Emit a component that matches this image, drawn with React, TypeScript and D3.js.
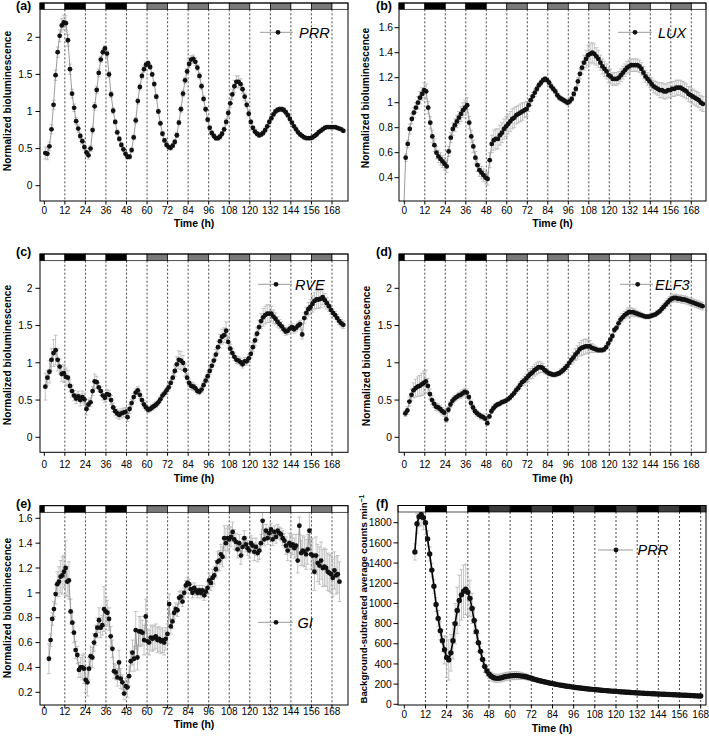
import React from "react";
import * as d3 from "d3";

// ---------------- data ----------------
const timeTicks = [0, 12, 24, 36, 48, 60, 72, 84, 96, 108, 120, 132, 144, 156, 168];
const dashTimes = [12, 24, 36, 48, 60, 72, 84, 96, 108, 120, 132, 144, 156, 168];
const yTicksNorm = [0, 0.5, 1, 1.5, 2];
const yTicksLux = [0.4, 0.6, 0.8, 1, 1.2, 1.4, 1.6];
const yTicksGi = [0.2, 0.4, 0.6, 0.8, 1, 1.2, 1.4, 1.6];
const yTicksCounts = [0, 200, 400, 600, 800, 1000, 1200, 1400, 1600, 1800];

// light regime bars: D = dark, L = light, G = grey (subjective night)
const lightEdgesMain = [0, 12, 24, 36, 48, 60, 72, 84, 96, 108, 120, 132, 144, 156, 168];
const lightMain = ["D", "L", "D", "L", "D", "L", "G", "L", "G", "L", "G", "L", "G", "L", "G", "L"];
const lightEdgesF = [12, 24, 36, 48, 60, 72, 84, 96, 108, 120, 132, 144, 156, 168];
const lightF = ["L", "D", "L", "D", "G", "D", "G", "D", "G", "D", "G", "D", "G", "D", "G"];

// (a) PRR, sampled every 1.2 h from 0.6 h
const prrA = [0.44,0.43,0.53,0.76,1.09,1.49,1.80,2.02,2.16,2.20,
 2.19,1.96,1.57,1.24,1.05,0.87,0.77,0.67,0.60,0.52,
 0.45,0.41,0.50,0.75,1.07,1.29,1.52,1.70,1.80,1.85,
 1.78,1.50,1.23,1.01,0.86,0.72,0.63,0.55,0.49,0.43,
 0.39,0.39,0.48,0.65,0.88,1.14,1.33,1.48,1.57,1.63,
 1.65,1.60,1.50,1.37,1.20,1.00,0.84,0.70,0.61,0.55,
 0.52,0.51,0.54,0.59,0.68,0.85,1.03,1.24,1.42,1.54,
 1.64,1.70,1.71,1.67,1.59,1.48,1.34,1.17,1.03,0.89,
 0.78,0.71,0.67,0.64,0.64,0.66,0.70,0.76,0.86,0.98,
 1.11,1.23,1.34,1.40,1.40,1.37,1.30,1.20,1.09,0.97,
 0.86,0.78,0.73,0.70,0.68,0.69,0.71,0.75,0.80,0.86,
 0.91,0.96,1.00,1.02,1.03,1.03,1.02,0.99,0.95,0.90,
 0.85,0.80,0.76,0.72,0.69,0.67,0.65,0.64,0.64,0.64,
 0.65,0.67,0.69,0.72,0.74,0.76,0.78,0.79,0.79,0.79,
 0.79,0.79,0.78,0.77,0.76,0.74];
const prrAErr = [0.08,0.08,0.06,0.06,0.06,0.07,0.07,0.08,0.09,0.10,
 0.10,0.08,0.07,0.06,0.05,0.05,0.05,0.04,0.04,0.04,
 0.05,0.05,0.04,0.04,0.05,0.05,0.05,0.04,0.04,0.04,
 0.04,0.04,0.04,0.04,0.03,0.03,0.03,0.03,0.03,0.03,
 0.03,0.03,0.03,0.03,0.04,0.04,0.04,0.04,0.04,0.04,
 0.03,0.03,0.03,0.03,0.03,0.03,0.03,0.03,0.03,0.03,
 0.03,0.03,0.03,0.03,0.03,0.03,0.04,0.04,0.04,0.04,
 0.05,0.05,0.05,0.05,0.04,0.04,0.04,0.04,0.03,0.03,
 0.03,0.03,0.03,0.03,0.03,0.03,0.03,0.03,0.04,0.05,
 0.06,0.07,0.08,0.08,0.08,0.07,0.06,0.05,0.04,0.04,
 0.03,0.03,0.03,0.03,0.03,0.03,0.03,0.03,0.03,0.03,
 0.03,0.03,0.03,0.03,0.03,0.03,0.03,0.03,0.03,0.03,
 0.02,0.02,0.02,0.02,0.02,0.02,0.02,0.02,0.02,0.02,
 0.02,0.02,0.02,0.02,0.02,0.02,0.02,0.02,0.02,0.02,
 0.02,0.02,0.02,0.02,0.02,0.02];

// (b) LUX, every 1.2 h from -0.4 h
const luxB = [0.12,0.56,0.67,0.79,0.87,0.92,0.96,1.00,1.04,1.07,
 1.10,1.09,0.96,0.84,0.73,0.66,0.60,0.57,0.55,0.53,
 0.51,0.49,0.61,0.72,0.79,0.82,0.85,0.88,0.91,0.94,
 0.96,0.98,0.84,0.73,0.65,0.56,0.50,0.46,0.44,0.42,
 0.40,0.39,0.54,0.67,0.70,0.71,0.71,0.74,0.76,0.79,
 0.81,0.83,0.85,0.87,0.88,0.90,0.91,0.92,0.93,0.94,
 0.95,0.98,1.02,1.05,1.08,1.11,1.14,1.16,1.18,1.19,
 1.18,1.16,1.13,1.11,1.09,1.06,1.04,1.03,1.02,1.01,
 1.00,1.01,1.03,1.07,1.11,1.17,1.23,1.28,1.32,1.35,
 1.38,1.39,1.40,1.39,1.37,1.35,1.32,1.29,1.27,1.25,
 1.22,1.21,1.19,1.19,1.19,1.20,1.22,1.24,1.26,1.28,
 1.29,1.30,1.30,1.30,1.30,1.29,1.27,1.24,1.21,1.19,
 1.17,1.15,1.13,1.12,1.11,1.10,1.10,1.09,1.09,1.10,
 1.10,1.11,1.11,1.12,1.12,1.12,1.11,1.10,1.09,1.07,
 1.06,1.05,1.04,1.03,1.02,1.00,0.99];
const luxBErr = [0.00,0.03,0.03,0.04,0.04,0.04,0.04,0.05,0.05,0.05,
 0.06,0.06,0.05,0.05,0.05,0.05,0.05,0.05,0.05,0.05,
 0.05,0.05,0.04,0.04,0.05,0.05,0.05,0.05,0.06,0.06,
 0.06,0.06,0.05,0.05,0.05,0.05,0.05,0.05,0.05,0.05,
 0.05,0.05,0.06,0.07,0.08,0.08,0.08,0.08,0.08,0.08,
 0.08,0.08,0.08,0.08,0.08,0.07,0.07,0.07,0.07,0.06,
 0.06,0.05,0.04,0.03,0.03,0.02,0.02,0.02,0.02,0.02,
 0.02,0.02,0.02,0.02,0.02,0.02,0.02,0.02,0.02,0.02,
 0.02,0.02,0.02,0.02,0.02,0.03,0.04,0.05,0.06,0.07,
 0.08,0.08,0.08,0.08,0.07,0.07,0.06,0.06,0.06,0.06,
 0.06,0.06,0.05,0.05,0.05,0.05,0.05,0.05,0.05,0.05,
 0.05,0.05,0.05,0.05,0.05,0.05,0.05,0.05,0.05,0.05,
 0.05,0.05,0.05,0.05,0.05,0.06,0.06,0.06,0.06,0.06,
 0.06,0.06,0.06,0.06,0.06,0.06,0.06,0.06,0.06,0.06,
 0.06,0.06,0.06,0.06,0.06,0.06,0.06];

// (c) RVE, every 1.2 h from 0.6 h
const rveC = [0.68,0.80,0.88,1.04,1.13,1.17,1.04,0.95,0.85,0.86,
 0.81,0.80,0.69,0.62,0.56,0.52,0.55,0.50,0.54,0.51,
 0.38,0.44,0.47,0.62,0.75,0.74,0.67,0.62,0.56,0.53,
 0.58,0.57,0.50,0.40,0.35,0.32,0.30,0.32,0.33,0.34,
 0.27,0.38,0.46,0.54,0.60,0.63,0.57,0.50,0.44,0.40,
 0.37,0.38,0.40,0.42,0.44,0.47,0.51,0.56,0.59,0.63,
 0.67,0.73,0.80,0.89,0.98,1.04,1.03,1.00,0.90,0.80,
 0.73,0.69,0.68,0.66,0.62,0.61,0.64,0.70,0.76,0.82,
 0.89,0.96,1.03,1.11,1.21,1.29,1.35,1.37,1.43,1.28,
 1.19,1.13,1.08,1.04,1.03,1.01,0.98,1.02,1.02,1.06,
 1.12,1.21,1.30,1.39,1.48,1.56,1.61,1.64,1.66,1.66,
 1.66,1.62,1.59,1.55,1.52,1.49,1.45,1.42,1.43,1.46,
 1.48,1.45,1.47,1.50,1.52,1.38,1.60,1.67,1.72,1.75,
 1.79,1.83,1.85,1.85,1.86,1.88,1.84,1.80,1.76,1.71,
 1.67,1.64,1.60,1.56,1.53,1.51];
const rveCErr = [0.18,0.10,0.15,0.15,0.18,0.20,0.15,0.10,0.10,0.12,
 0.12,0.10,0.08,0.08,0.07,0.07,0.07,0.08,0.08,0.08,
 0.08,0.07,0.06,0.06,0.10,0.08,0.06,0.06,0.06,0.06,
 0.06,0.06,0.06,0.06,0.06,0.06,0.06,0.06,0.06,0.06,
 0.06,0.06,0.05,0.05,0.05,0.05,0.05,0.05,0.05,0.04,
 0.04,0.04,0.04,0.04,0.04,0.04,0.04,0.04,0.04,0.04,
 0.05,0.05,0.06,0.07,0.10,0.12,0.12,0.10,0.08,0.06,
 0.05,0.05,0.05,0.05,0.04,0.04,0.04,0.04,0.04,0.05,
 0.05,0.05,0.06,0.07,0.08,0.09,0.10,0.10,0.12,0.08,
 0.06,0.06,0.05,0.05,0.05,0.05,0.05,0.05,0.05,0.05,
 0.05,0.06,0.07,0.08,0.09,0.10,0.12,0.12,0.12,0.12,
 0.10,0.09,0.08,0.07,0.06,0.06,0.05,0.05,0.05,0.05,
 0.05,0.05,0.05,0.05,0.05,0.06,0.07,0.08,0.09,0.10,
 0.11,0.11,0.12,0.12,0.12,0.10,0.09,0.08,0.07,0.06,
 0.05,0.05,0.05,0.05,0.05,0.05];

// (d) ELF3, every 1.2 h from 0.6 h
const elfD = [0.32,0.36,0.48,0.57,0.63,0.66,0.68,0.69,0.71,0.73,
 0.75,0.69,0.58,0.50,0.45,0.41,0.40,0.38,0.35,0.33,
 0.24,0.37,0.44,0.49,0.52,0.54,0.56,0.57,0.59,0.61,
 0.60,0.54,0.46,0.40,0.35,0.32,0.30,0.28,0.27,0.25,
 0.19,0.28,0.35,0.39,0.42,0.44,0.45,0.47,0.48,0.49,
 0.51,0.53,0.56,0.59,0.63,0.66,0.70,0.74,0.76,0.79,
 0.82,0.85,0.87,0.90,0.92,0.94,0.94,0.93,0.90,0.88,
 0.86,0.85,0.84,0.84,0.85,0.86,0.88,0.90,0.93,0.96,
 1.00,1.04,1.07,1.11,1.14,1.18,1.20,1.21,1.22,1.22,
 1.22,1.20,1.19,1.18,1.17,1.17,1.17,1.18,1.21,1.26,
 1.31,1.36,1.44,1.47,1.53,1.58,1.61,1.64,1.66,1.68,
 1.68,1.68,1.67,1.66,1.65,1.64,1.63,1.62,1.62,1.62,
 1.63,1.64,1.65,1.67,1.69,1.72,1.75,1.78,1.81,1.84,
 1.86,1.87,1.87,1.86,1.86,1.85,1.85,1.84,1.83,1.82,
 1.81,1.80,1.79,1.78,1.77,1.76];
const elfDErr = [0.04,0.05,0.06,0.08,0.10,0.12,0.13,0.14,0.15,0.16,
 0.15,0.10,0.07,0.06,0.05,0.05,0.05,0.05,0.05,0.05,
 0.04,0.04,0.04,0.04,0.04,0.04,0.04,0.05,0.05,0.05,
 0.05,0.04,0.04,0.04,0.04,0.04,0.04,0.04,0.04,0.03,
 0.03,0.03,0.03,0.03,0.03,0.03,0.03,0.03,0.03,0.03,
 0.03,0.03,0.03,0.03,0.04,0.04,0.05,0.05,0.06,0.06,
 0.07,0.07,0.08,0.08,0.08,0.08,0.07,0.06,0.05,0.04,
 0.03,0.03,0.03,0.03,0.03,0.03,0.04,0.04,0.05,0.05,
 0.06,0.06,0.07,0.08,0.09,0.09,0.10,0.10,0.10,0.09,
 0.08,0.06,0.05,0.04,0.03,0.03,0.03,0.03,0.03,0.03,
 0.03,0.03,0.03,0.03,0.04,0.04,0.05,0.05,0.06,0.06,
 0.06,0.05,0.05,0.04,0.04,0.03,0.03,0.03,0.03,0.03,
 0.03,0.03,0.03,0.03,0.03,0.04,0.04,0.05,0.05,0.05,
 0.05,0.05,0.05,0.05,0.05,0.05,0.05,0.05,0.05,0.05,
 0.05,0.05,0.05,0.05,0.05,0.05];

// (e) GI, every ~0.975 h from 2.7 h
const giE = [0.47,0.62,0.79,0.87,0.99,1.07,1.09,1.13,1.14,1.17,
 1.20,1.09,1.10,0.85,0.76,0.68,0.54,0.50,0.38,0.40,
 0.40,0.39,0.30,0.28,0.39,0.49,0.48,0.60,0.66,0.72,
 0.78,0.72,0.74,0.87,0.85,0.84,0.79,0.65,0.55,0.37,
 0.36,0.32,0.44,0.31,0.28,0.19,0.25,0.24,0.33,0.45,
 0.52,0.47,0.70,0.48,0.69,0.69,0.68,0.62,0.81,0.61,
 0.60,0.64,0.63,0.64,0.65,0.62,0.63,0.61,0.62,0.60,
 0.63,0.67,0.91,0.73,0.77,0.84,0.87,0.86,0.96,0.97,
 0.93,1.00,1.06,1.08,1.07,1.03,1.00,1.04,1.02,1.00,
 1.02,1.00,1.02,0.98,1.01,1.04,1.10,1.08,1.12,1.14,
 1.19,1.25,1.26,1.31,1.29,1.44,1.40,1.44,1.43,1.45,
 1.49,1.43,1.41,1.35,1.40,1.30,1.37,1.44,1.39,1.36,
 1.34,1.40,1.38,1.33,1.37,1.32,1.34,1.40,1.58,1.43,
 1.50,1.44,1.48,1.51,1.43,1.49,1.45,1.50,1.48,1.47,
 1.44,1.42,1.38,1.34,1.40,1.38,1.39,1.36,1.38,1.26,
 1.54,1.32,1.34,1.33,1.31,1.35,1.50,1.31,1.30,1.17,
 1.30,1.24,1.22,1.26,1.20,1.21,1.20,1.17,1.16,1.15,
 1.12,1.18,1.14,1.15,1.09];
const giEErr = [0.12,0.05,0.05,0.06,0.08,0.10,0.12,0.13,0.15,0.13,
 0.22,0.12,0.15,0.10,0.08,0.08,0.07,0.07,0.06,0.08,
 0.10,0.12,0.10,0.11,0.09,0.08,0.08,0.07,0.08,0.08,
 0.10,0.08,0.08,0.18,0.12,0.10,0.09,0.08,0.07,0.06,
 0.06,0.07,0.10,0.08,0.06,0.05,0.06,0.08,0.08,0.08,
 0.10,0.10,0.15,0.10,0.12,0.12,0.10,0.12,0.14,0.10,
 0.10,0.10,0.10,0.10,0.10,0.10,0.10,0.10,0.10,0.10,
 0.09,0.08,0.08,0.06,0.06,0.05,0.05,0.05,0.05,0.05,
 0.04,0.04,0.04,0.04,0.04,0.04,0.04,0.04,0.04,0.04,
 0.04,0.04,0.04,0.04,0.04,0.05,0.06,0.06,0.07,0.07,
 0.07,0.08,0.08,0.08,0.08,0.10,0.12,0.10,0.10,0.08,
 0.08,0.08,0.07,0.07,0.07,0.07,0.06,0.06,0.06,0.06,
 0.06,0.06,0.06,0.07,0.07,0.07,0.07,0.07,0.07,0.05,
 0.05,0.05,0.05,0.05,0.05,0.05,0.05,0.05,0.05,0.05,
 0.06,0.06,0.07,0.08,0.08,0.08,0.08,0.08,0.09,0.10,
 0.07,0.10,0.12,0.12,0.12,0.12,0.15,0.12,0.14,0.15,
 0.15,0.15,0.15,0.15,0.15,0.15,0.15,0.15,0.15,0.15,
 0.15,0.15,0.15,0.15,0.16];

// (f) PRR counts, every 1.2 h from 6 h
const prrF = [1510,1790,1860,1880,1850,1800,1640,1490,1330,1170,
 990,850,730,630,540,465,440,510,630,800,
 930,1030,1085,1120,1140,1110,1050,950,830,720,
 610,525,445,375,330,300,278,265,259,257,
 259,264,270,275,279,282,284,285,285,284,
 282,279,275,270,264,258,251,245,239,233,
 228,223,218,213,209,205,201,197,193,189,
 186,182,179,176,173,170,167,164,162,159,
 157,154,152,150,148,146,144,142,140,138,
 136,134,133,131,129,128,126,125,123,122,
 120,119,117,116,115,113,112,111,110,108,
 107,106,105,104,103,102,101,100,99,98,
 97,96,95,94,93,92,91,90,89,88,
 87,86,85,84,83,82];
const prrFErr = [80,100,100,110,120,120,80,70,70,70,
 70,80,90,110,140,200,200,180,180,200,
 230,250,250,260,250,230,180,150,130,110,
 90,80,70,60,50,45,40,40,40,40,
 40,40,40,40,40,40,40,40,40,38,
 35,33,30,28,25,24,22,20,19,18,
 17,17,16,16,15,15,15,14,14,14,
 14,13,13,13,13,13,12,12,12,12,
 12,12,12,12,12,11,11,11,11,11,
 11,11,11,11,11,11,11,10,10,10,
 10,10,10,10,10,10,10,10,10,10,
 10,10,10,10,10,10,10,10,10,10,
 10,10,10,10,10,10,10,10,10,10,
 10,10,10,10,10,10];

// ---------------- layout ----------------
type Panel = {
  key: string; tag: string; gene: string;
  values: number[]; errs: number[]; t0: number; dt: number;
  left: number; right: number; barTop: number; barBottom: number; bottom: number;
  xRange: [number, number]; yRef: [number, number, number, number];
  yTicks: number[]; light: string[]; lightEdges: number[]; grey: string;
  tagX: number; tagY: number; ylab: string; ylabX: number; ylabY: number; ylabSize: number;
  tickY: number; titleY: number; yLabGap: number;
  legend: { x1: number; x2: number; dot: number; y: number; tx: number };
  heavy: boolean;
};

const FONT = "'Liberation Sans', Arial, Helvetica, sans-serif";
const NB = "Normalized bioluminescence";

const panels: Panel[] = [
  { key: "a", tag: "(a)", gene: "PRR", values: prrA, errs: prrAErr, t0: 0.6, dt: 1.2,
    left: 40, right: 348, barTop: 3, barBottom: 9.3, bottom: 201, xRange: [44.3, 332], yRef: [0, 185.7, 2, 37.3],
    yTicks: yTicksNorm, light: lightMain, lightEdges: lightEdgesMain, grey: "#7a7a7a",
    tagX: 16, tagY: 10, ylab: NB, ylabX: 7, ylabY: 101, ylabSize: 10.2, tickY: 214, titleY: 226.5, yLabGap: 7.5,
    legend: { x1: 260, x2: 293, dot: 278, y: 32.3, tx: 299 }, heavy: false },
  { key: "b", tag: "(b)", gene: "LUX", values: luxB, errs: luxBErr, t0: -0.4, dt: 1.2,
    left: 399, right: 706, barTop: 3, barBottom: 9.3, bottom: 201, xRange: [404.3, 691.3], yRef: [0.4, 177.7, 1.6, 27.7],
    yTicks: yTicksLux, light: lightMain, lightEdges: lightEdgesMain, grey: "#7a7a7a",
    tagX: 376, tagY: 10, ylab: NB, ylabX: 365, ylabY: 98, ylabSize: 10.2, tickY: 214, titleY: 226.5, yLabGap: 6,
    legend: { x1: 618, x2: 652, dot: 635, y: 32.3, tx: 658 }, heavy: false },
  { key: "c", tag: "(c)", gene: "RVE", values: rveC, errs: rveCErr, t0: 0.6, dt: 1.2,
    left: 40, right: 348, barTop: 254, barBottom: 260.7, bottom: 452.3, xRange: [44.3, 332], yRef: [0, 437.3, 2, 288.3],
    yTicks: yTicksNorm, light: lightMain, lightEdges: lightEdgesMain, grey: "#7a7a7a",
    tagX: 16, tagY: 256, ylab: NB, ylabX: 7, ylabY: 355, ylabSize: 10.2, tickY: 468, titleY: 482, yLabGap: 7.5,
    legend: { x1: 258, x2: 292, dot: 276, y: 284.3, tx: 295 }, heavy: false },
  { key: "d", tag: "(d)", gene: "ELF3", values: elfD, errs: elfDErr, t0: 0.6, dt: 1.2,
    left: 399, right: 706, barTop: 254, barBottom: 260.7, bottom: 452.3, xRange: [404.3, 691.3], yRef: [0, 437.3, 2, 288.3],
    yTicks: yTicksNorm, light: lightMain, lightEdges: lightEdgesMain, grey: "#7a7a7a",
    tagX: 376, tagY: 256, ylab: NB, ylabX: 366, ylabY: 356, ylabSize: 10.2, tickY: 468, titleY: 482, yLabGap: 7,
    legend: { x1: 620, x2: 653, dot: 637.7, y: 284.3, tx: 655 }, heavy: false },
  { key: "e", tag: "(e)", gene: "GI", values: giE, errs: giEErr, t0: 2.7, dt: 0.975,
    left: 40, right: 348, barTop: 505.7, barBottom: 512.3, bottom: 705, xRange: [44.3, 332], yRef: [0.2, 692.3, 1.6, 518.3],
    yTicks: yTicksGi, light: lightMain, lightEdges: lightEdgesMain, grey: "#7a7a7a",
    tagX: 16, tagY: 507.5, ylab: NB, ylabX: 7, ylabY: 608, ylabSize: 10.2, tickY: 715, titleY: 727.5, yLabGap: 7.5,
    legend: { x1: 258, x2: 293, dot: 276, y: 622.3, tx: 297.5 }, heavy: false },
  { key: "f", tag: "(f)", gene: "PRR", values: prrF, errs: prrFErr, t0: 6.0, dt: 1.2,
    left: 398, right: 706, barTop: 505.5, barBottom: 512, bottom: 705, xRange: [404.3, 700.7], yRef: [0, 704.3, 1800, 522.7],
    yTicks: yTicksCounts, light: lightF, lightEdges: lightEdgesF, grey: "#3c3c3c",
    tagX: 376, tagY: 507.5, ylab: "Background-subtracted average counts min", ylabX: 364, ylabY: 599, ylabSize: 9.6,
    tickY: 718, titleY: 731.5, yLabGap: 6.3,
    legend: { x1: 598, x2: 633, dot: 616, y: 550, tx: 637.5 }, heavy: true },
];

function PanelView({ p }: { p: Panel }) {
  const x = d3.scaleLinear().domain([0, 168]).range(p.xRange);
  const y = d3.scaleLinear().domain([p.yRef[0], p.yRef[2]]).range([p.yRef[1], p.yRef[3]]);
  const pts = p.values.map((v, i) => ({ t: p.t0 + p.dt * i, v, e: p.errs[i] }));
  const lineGen = d3.line<{ t: number; v: number }>().x((d) => x(d.t)).y((d) => y(d.v));
  const xmin = x.invert(p.left);
  const xmax = x.invert(p.right);
  const edges = [xmin, ...p.lightEdges, xmax];
  const clipId = "clip-" + p.key;
  const fill = (c: string) => (c === "D" ? "#000" : c === "L" ? "#fff" : p.grey);
  const cap = 1.9;
  const errColor = "#b5b5b5";
  const fmt = (v: number) => String(v);
  return (
    <g>
      <defs>
        <clipPath id={clipId}>
          <rect x={p.left} y={p.barBottom} width={p.right - p.left} height={p.bottom - p.barBottom} />
        </clipPath>
      </defs>
      {dashTimes.map((t) => (
        <line key={"dl" + t} x1={x(t)} x2={x(t)} y1={p.barBottom} y2={p.bottom}
          stroke="#333" strokeWidth={0.9} strokeDasharray="2,2" />
      ))}
      <g clipPath={`url(#${clipId})`}>
        {pts.map((d, i) =>
          d.e > 0 ? (
            <g key={"e" + i} stroke={errColor} strokeWidth={0.8}>
              <line x1={x(d.t)} x2={x(d.t)} y1={y(d.v - d.e)} y2={y(d.v + d.e)} />
              <line x1={x(d.t) - cap} x2={x(d.t) + cap} y1={y(d.v + d.e)} y2={y(d.v + d.e)} />
              <line x1={x(d.t) - cap} x2={x(d.t) + cap} y1={y(d.v - d.e)} y2={y(d.v - d.e)} />
            </g>
          ) : null
        )}
        <path d={lineGen(pts) || ""} fill="none" stroke={p.heavy ? "#000" : "#8f8f8f"} strokeWidth={p.heavy ? 1.6 : 0.9} />
        {pts.map((d, i) => (
          <circle key={"c" + i} cx={x(d.t)} cy={y(d.v)} r={p.heavy ? 2.7 : 2.4} fill="#111" />
        ))}
      </g>
      {p.light.map((c, i) => (
        <rect key={"b" + i} x={x(edges[i])} y={p.barTop} width={x(edges[i + 1]) - x(edges[i])}
          height={p.barBottom - p.barTop} fill={fill(c)} stroke="#000" strokeWidth={0.7} />
      ))}
      <rect x={p.left} y={p.barTop} width={p.right - p.left} height={p.bottom - p.barTop}
        fill="none" stroke="#000" strokeWidth={1} />
      {p.yTicks.map((v) => (
        <g key={"yt" + v}>
          <line x1={p.left - 4.5} x2={p.left} y1={y(v)} y2={y(v)} stroke="#000" strokeWidth={1} />
          <text x={p.left - p.yLabGap} y={y(v)} dy="0.36em" textAnchor="end" fontSize={10.3} fontFamily={FONT}>
            {fmt(v)}
          </text>
        </g>
      ))}
      {timeTicks.map((t) => (
        <g key={"xt" + t}>
          <line x1={x(t)} x2={x(t)} y1={p.bottom} y2={p.bottom + 3.5} stroke="#000" strokeWidth={1} />
          <text x={x(t)} y={p.tickY} textAnchor="middle" fontSize={10} fontFamily={FONT}>
            {t}
          </text>
        </g>
      ))}
      <text x={(p.left + p.right) / 2} y={p.titleY} textAnchor="middle" fontSize={10.5} fontWeight="bold" fontFamily={FONT}>
        Time (h)
      </text>
      <text transform={`translate(${p.ylabX},${p.ylabY}) rotate(-90)`} dy="0.35em" textAnchor="middle"
        fontSize={p.ylabSize} fontWeight="bold" fontFamily={FONT}>
        {p.ylab}
        {p.heavy ? <tspan dy={-3.5} fontSize={7}>−1</tspan> : null}
      </text>
      <text x={p.tagX} y={p.tagY} fontSize={12.5} fontWeight="bold" fontFamily={FONT}>
        {p.tag}
      </text>
      <line x1={p.legend.x1} x2={p.legend.x2} y1={p.legend.y} y2={p.legend.y} stroke="#9a9a9a" strokeWidth={1} />
      <circle cx={p.legend.dot} cy={p.legend.y} r={2.4} fill="#111" />
      <text x={p.legend.tx} y={p.legend.y} dy="0.36em" fontSize={14.5} fontStyle="italic" fontFamily={FONT}>
        {p.gene}
      </text>
    </g>
  );
}

export default function App() {
  return (
    <svg width={709} height={737} viewBox="0 0 709 737"
      style={{ position: "absolute", left: 0, top: 0, background: "#fff" }}>
      <rect x={0} y={0} width={709} height={737} fill="#fff" />
      {panels.map((p) => (
        <PanelView key={p.key} p={p} />
      ))}
    </svg>
  );
}
